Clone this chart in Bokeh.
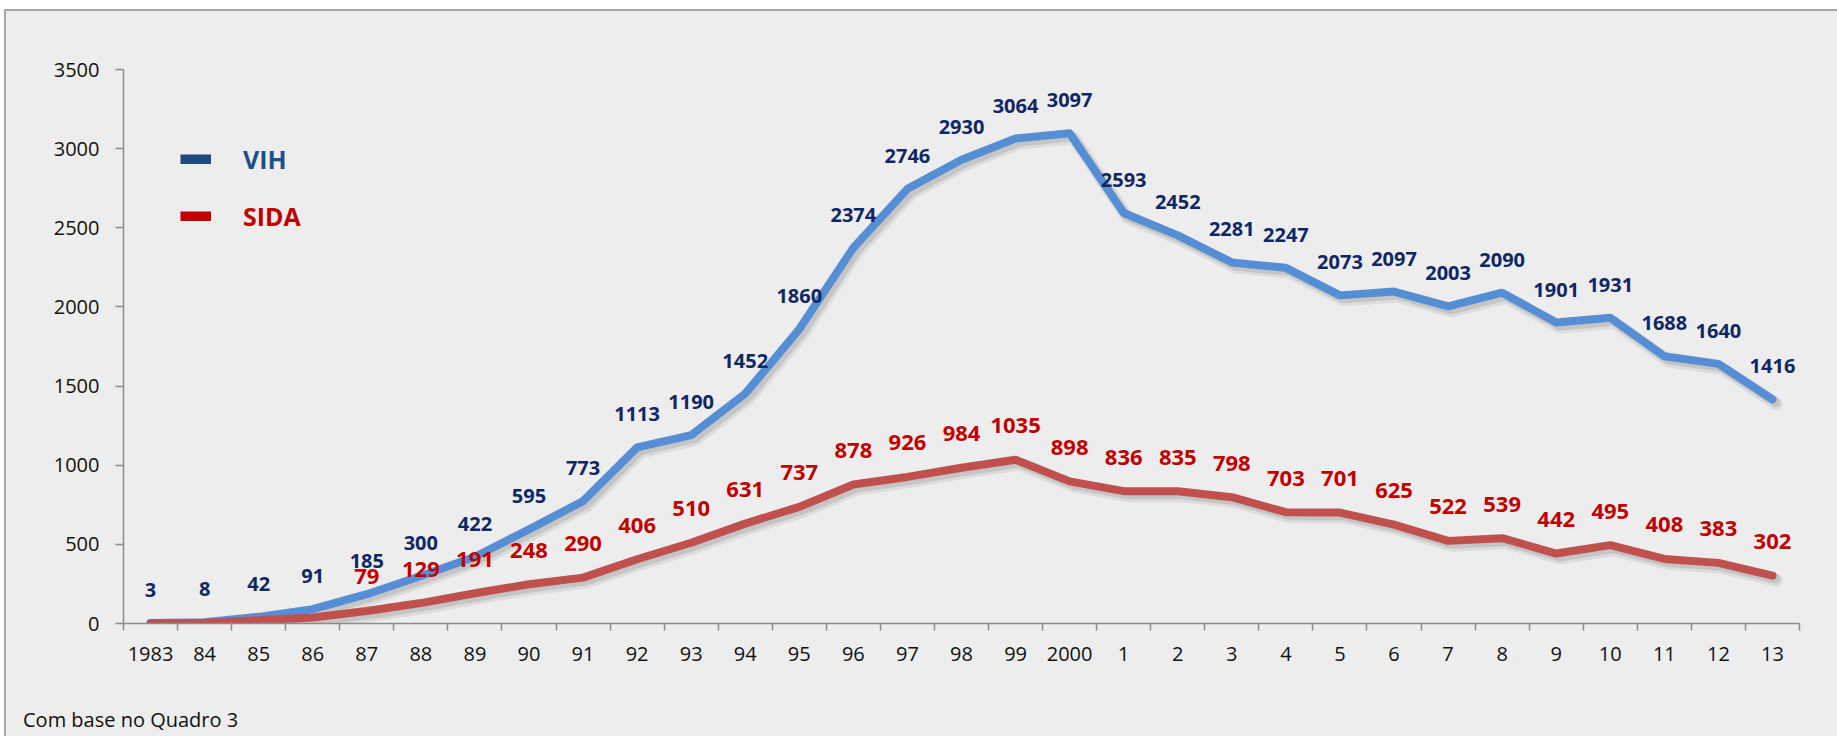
from bokeh.plotting import figure
from bokeh.models import (ColumnDataSource, FixedTicker, LabelSet, Legend,
                          LegendItem, Range1d, Div)
from bokeh.layouts import column
from bokeh.core.properties import value
from bokeh.transform import dodge
from bokeh.embed import file_html
from bokeh.resources import INLINE

# ---- data ----
years = ["1983", "84", "85", "86", "87", "88", "89", "90", "91", "92", "93", "94",
         "95", "96", "97", "98", "99", "2000", "1", "2", "3", "4", "5", "6", "7",
         "8", "9", "10", "11", "12", "13"]
vih = [3, 8, 42, 91, 185, 300, 422, 595, 773, 1113, 1190, 1452, 1860, 2374, 2746,
       2930, 3064, 3097, 2593, 2452, 2281, 2247, 2073, 2097, 2003, 2090, 1901, 1931,
       1688, 1640, 1416]
sida = [1, 3, 20, 38, 79, 129, 191, 248, 290, 406, 510, 631, 737, 878, 926, 984,
        1035, 898, 836, 835, 798, 703, 701, 625, 522, 539, 442, 495, 408, 383, 302]
sida_unlabeled = 4          # first SIDA points shown without a value label
y_ticks = [0, 500, 1000, 1500, 2000, 2500, 3000, 3500]
note = "Com base no Quadro 3"

FONT = "Open Sans"
BLUE_LINE = "#558ED5"
RED_LINE = "#C0504D"
BLUE_TEXT = "#0F2763"
RED_TEXT = "#C00000"
AXIS = "#8C8C8C"
BG = "#EDEDED"

idx = list(range(len(years)))
src_vih = ColumnDataSource(dict(x=idx, y=vih, label=[str(v) for v in vih]))
src_sida = ColumnDataSource(dict(
    x=idx, y=sida,
    label=["" if i < sida_unlabeled else str(v) for i, v in enumerate(sida)]))

p = figure(width=1829, height=672, output_backend="svg", toolbar_location=None,
           x_range=Range1d(-0.5, len(years) - 0.5), y_range=Range1d(0, y_ticks[-1]),
           min_border_left=117, min_border_right=36, min_border_top=58,
           min_border_bottom=60, background_fill_color=BG, border_fill_color=BG)
p.outline_line_color = None
p.grid.visible = False

# x axis: labels at category centres, ticks between categories
xa = p.xaxis[0]
xa.ticker = FixedTicker(ticks=idx, minor_ticks=[i - 0.5 for i in range(len(years) + 1)])
xa.major_label_overrides = {i: years[i] for i in idx}
xa.major_tick_line_color = None
xa.major_tick_out = 0
xa.major_tick_in = 0
xa.minor_tick_line_color = AXIS
xa.minor_tick_line_width = 1.5
xa.minor_tick_out = 7
xa.minor_tick_in = 0
xa.axis_line_color = AXIS
xa.axis_line_width = 1.5
xa.major_label_standoff = 16
xa.major_label_text_font = FONT
xa.major_label_text_font_size = "20px"
xa.major_label_text_color = "#111111"

ya = p.yaxis[0]
ya.ticker = FixedTicker(ticks=y_ticks)
ya.major_tick_line_color = AXIS
ya.major_tick_line_width = 1.5
ya.major_tick_out = 8
ya.major_tick_in = 0
ya.minor_tick_line_color = None
ya.axis_line_color = AXIS
ya.axis_line_width = 1.5
ya.major_label_standoff = 16
ya.major_label_text_font = FONT
ya.major_label_text_font_size = "20px"
ya.major_label_text_color = "#111111"

# shadows
for src in (src_vih, src_sida):
    p.line(x=dodge("x", 0.07, range=p.x_range), y=dodge("y", -28, range=p.y_range),
           source=src, line_color="#000000", line_alpha=0.07, line_width=13,
           line_join="round", line_cap="round")
    p.line(x=dodge("x", 0.06, range=p.x_range), y=dodge("y", -22, range=p.y_range),
           source=src, line_color="#000000", line_alpha=0.10, line_width=9,
           line_join="round", line_cap="round")

p.line("x", "y", source=src_vih, line_color=BLUE_LINE, line_width=8,
       line_join="round", line_cap="round")
p.line("x", "y", source=src_sida, line_color=RED_LINE, line_width=8,
       line_join="round", line_cap="round")

for src, col, size, off in ((src_vih, BLUE_TEXT, "20px", 33),
                            (src_sida, RED_TEXT, "22px", 34)):
    p.add_layout(LabelSet(x="x", y="y", text="label", source=src, y_offset=off,
                          text_align="center", text_baseline="middle",
                          text_font=value(FONT), text_font_size=size,
                          text_font_style="bold", text_color=col))

# legend (single-point lines draw nothing but give the legend its swatch)
dummy_vih = p.line(x=[idx[0]], y=[vih[0]], line_color="#1F497D", line_width=10,
                   line_cap="butt")
dummy_sida = p.line(x=[idx[0]], y=[sida[0]], line_color=RED_TEXT, line_width=10,
                    line_cap="butt")
for name, rend, col, loc in (("VIH", dummy_vih, "#1F4E8C", (57, 447)),
                             ("SIDA", dummy_sida, RED_TEXT, (57, 390))):
    leg = Legend(items=[LegendItem(label=name, renderers=[rend])], location=loc,
                 padding=0, margin=0, spacing=0, glyph_width=31, glyph_height=10,
                 label_standoff=32, label_height=10, label_text_font=FONT,
                 label_text_font_size="25px", label_text_font_style="bold",
                 label_text_color=col, background_fill_alpha=0, border_line_alpha=0)
    p.add_layout(leg)

note_div = Div(
    text=('<div style="padding:19px 0 0 12px;font-family:\'Open Sans\';'
          'font-size:20px;line-height:26px;color:#111111;">' + note + '</div>'),
    width=1829, height=50)

layout = column(p, note_div, styles={
    "margin-left": "4px", "margin-top": "9px",
    "border-left": "2px solid #A6A6A6", "border-top": "2px solid #A6A6A6",
    "background-color": BG})

open("out.html", "w").write(file_html(layout, INLINE))
